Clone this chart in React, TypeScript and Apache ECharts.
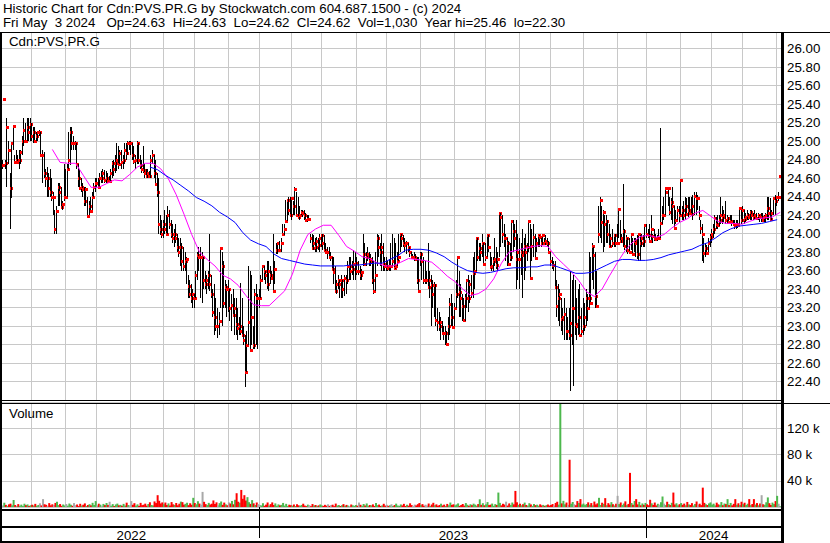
import React, { useEffect, useRef } from "react";
import * as echarts from "echarts";

const FONT = '"Liberation Sans", Arial, Helvetica, sans-serif';

const titleLine1 = "Historic Chart for Cdn:PVS.PR.G by Stockwatch.com 604.687.1500 - (c) 2024";
const titleLine2 = "Fri May  3 2024   Op=24.63  Hi=24.63  Lo=24.62  Cl=24.62  Vol=1,030  Year hi=25.46  lo=22.30";
const symbolLabel = "Cdn:PVS.PR.G";
const volumeLabel = "Volume";

// trading calendar
const firstDay = "2022-05-04";
const lastDay = "2024-05-03";
const marketHolidays = [
  "2022-05-23", "2022-07-01", "2022-08-01", "2022-09-05", "2022-10-10", "2022-12-26", "2022-12-27",
  "2023-01-02", "2023-02-20", "2023-04-07", "2023-05-22", "2023-07-03", "2023-08-07", "2023-09-04",
  "2023-10-09", "2023-12-25", "2023-12-26",
  "2024-01-01", "2024-02-19", "2024-03-29",
];

// daily highs (one line per month)
const highs = [
  24.8, 25.46, 24.8, 25.25, 25.0, 24.66, 24.98, 25.16, 24.85, 24.9, 24.85, 24.9, 24.9, 25.05, 25.25, 25.2, 25.25, 25.25, 25.25,
  25.2, 25.15, 25.15, 25.1, 25.1, 25.12, 25.1, 24.9, 24.88, 24.7, 24.72, 24.65, 24.7, 24.6, 24.45, 24.25, 24.3, 24.55, 24.55, 24.5, 24.35, 24.75,
  24.7, 24.75, 25.1, 25.15, 25.15, 25.05, 25.0, 24.98, 24.75, 24.7, 24.6, 24.55, 24.5, 24.5, 24.4, 24.35, 24.4, 24.45, 24.55, 24.6,
  24.6, 24.6, 24.65, 24.68, 24.7, 24.69, 24.68, 24.65, 24.62, 24.7, 24.78, 24.8, 24.85, 24.98, 24.95, 24.9, 24.9, 24.85, 24.98, 24.98, 25.0, 25.0,
  25.0, 24.98, 24.95, 24.85, 25.0, 24.98, 24.85, 24.8, 24.95, 24.75, 24.7, 24.7, 24.68, 24.85, 24.9, 24.85, 24.8, 24.65, 24.6, 24.2, 24.15,
  24.15, 24.25, 24.2, 24.3, 24.25, 24.15, 24.1, 24.05, 24.1, 24.0, 23.95, 23.95, 23.9, 23.85, 23.8, 23.75, 23.55, 23.5, 23.45, 23.4,
  23.35, 23.6, 23.8, 23.85, 23.85, 23.8, 23.75, 23.6, 23.55, 23.6, 24.0, 23.55, 23.4, 23.45, 23.3, 23.2, 23.15, 23.84, 23.8, 23.7, 23.5, 23.45,
  23.5, 23.4, 23.35, 23.4, 23.3, 23.3, 23.2, 23.1, 23.46, 23.3, 23.0, 22.9, 22.95, 23.65, 23.6, 23.55, 23.0, 23.4, 23.45, 23.35,
  23.4, 23.55, 23.65, 23.65, 23.6, 23.7, 23.7, 23.65, 23.6, 24.0, 23.7, 23.9, 23.9, 23.92, 23.95, 24.1, 24.1, 24.36, 24.36, 24.4, 24.4,
  24.4, 24.35, 24.5, 24.45, 24.4, 24.3, 24.25, 24.25, 24.25, 24.22, 24.2, 24.2, 24.0, 24.0, 23.98, 23.95, 23.96, 23.95, 24.0,
  24.0, 24.0, 23.98, 23.9, 23.85, 23.85, 23.8, 23.75, 23.75, 23.65, 23.5, 23.55, 23.5, 23.55, 23.5, 23.55, 23.55, 23.7, 23.75, 23.75, 23.7, 23.82, 23.8,
  23.75, 23.7, 23.65, 23.62, 24.0, 23.9, 23.8, 23.85, 23.8, 23.78, 23.75, 23.7, 23.8, 24.0, 23.98, 23.9, 24.0, 23.9, 23.75,
  23.75, 23.7, 23.72, 23.9, 24.0, 23.95, 23.9, 23.8, 24.0, 24.0, 24.0, 23.98, 23.95, 23.92, 23.9, 23.85, 23.8, 23.78, 23.8, 23.78, 23.75, 23.75,
  23.8, 23.8, 23.75, 23.7, 23.6, 23.9, 23.6, 23.55, 23.5, 23.48, 23.45, 23.2, 23.15, 23.1, 23.05, 23.0, 23.0, 22.95, 23.1, 23.3, 23.35, 23.25,
  23.25, 23.5, 23.75, 23.6, 23.45, 23.35, 23.3, 23.35, 23.5, 23.55, 23.5, 23.55, 23.75, 23.8, 23.95, 23.95, 23.9, 23.9, 24.0, 23.9,
  23.9, 24.0, 23.98, 23.8, 23.75, 23.75, 23.95, 23.85, 23.8, 24.22, 24.22, 24.2, 24.1, 24.0, 23.95, 23.92, 23.9, 24.15, 24.15, 24.1, 24.15, 24.0,
  23.95, 23.9, 24.05, 23.95, 24.0, 23.9, 24.14, 24.1, 24.05, 24.1, 24.0, 23.95, 24.0, 23.98, 23.95, 23.98, 23.95, 23.98, 23.95, 23.92,
  23.8, 23.75, 23.7, 23.7, 23.5, 23.45, 23.4, 23.3, 23.2, 23.3, 23.2, 23.1, 23.2, 23.6, 23.5, 23.55, 23.5, 23.3, 23.4, 23.45, 23.2,
  23.3, 23.25, 23.4, 23.35, 23.8, 23.75, 23.9, 23.85, 23.8, 23.6, 24.3, 24.4, 24.3, 24.25, 24.2, 24.2, 24.15, 24.1, 24.0, 24.05, 24.0, 24.0,
  24.1, 24.28, 24.15, 24.0, 24.54, 24.05, 23.98, 23.95, 23.95, 24.0, 23.95, 23.95, 23.95, 23.98, 24.0, 23.98, 24.0, 23.98, 24.1,
  24.1, 24.05, 24.1, 24.2, 24.0, 24.05, 24.0, 23.98, 24.05, 25.14, 24.3, 24.4, 24.49, 24.45, 24.49, 24.4, 24.38, 24.5, 24.3, 24.25, 24.3, 24.3,
  24.58, 24.3, 24.35, 24.4, 24.38, 24.4, 24.4, 24.4, 24.42, 24.45, 24.45, 24.42, 24.3, 24.15, 24.1, 23.95, 23.9, 23.88, 23.95, 24.0,
  24.05, 24.1, 24.2, 24.18, 24.2, 24.2, 24.4, 24.3, 24.25, 24.35, 24.2, 24.18, 24.2, 24.2, 24.15, 24.15, 24.15, 24.15, 24.28, 24.25,
  24.3, 24.25, 24.22, 24.25, 24.22, 24.25, 24.25, 24.22, 24.25, 24.22, 24.22, 24.2, 24.22, 24.22, 24.2, 24.22, 24.4, 24.4, 24.38, 24.25, 24.4, 24.42,
  24.4, 24.45, 24.63,
];

// daily lows
const lows = [
  24.7, 25.46, 24.7, 24.5, 24.75, 24.05, 24.39, 24.9, 24.75, 24.77, 24.75, 24.7, 24.75, 24.85, 24.95, 25.0, 25.0, 25.0, 25.0,
  25.0, 24.98, 24.98, 25.0, 25.0, 25.05, 24.85, 24.55, 24.6, 24.5, 24.4, 24.4, 24.4, 24.35, 24.2, 24.0, 24.0, 24.3, 24.3, 24.28, 24.25, 24.35,
  24.4, 24.4, 24.7, 24.74, 24.9, 24.9, 24.9, 24.7, 24.5, 24.47, 24.45, 24.4, 24.3, 24.3, 24.19, 24.2, 24.24, 24.25, 24.4, 24.45,
  24.5, 24.48, 24.5, 24.55, 24.55, 24.55, 24.55, 24.55, 24.55, 24.57, 24.6, 24.62, 24.65, 24.68, 24.7, 24.75, 24.7, 24.7, 24.75, 24.8, 24.85, 24.9,
  24.85, 24.8, 24.75, 24.7, 24.75, 24.75, 24.7, 24.65, 24.65, 24.6, 24.6, 24.6, 24.6, 24.6, 24.75, 24.6, 24.54, 24.4, 24.0, 23.98, 23.95,
  23.95, 24.0, 23.98, 24.0, 24.05, 23.95, 23.9, 23.85, 23.9, 23.8, 23.75, 23.65, 23.6, 23.6, 23.6, 23.45, 23.3, 23.3, 23.25, 23.2,
  23.2, 23.3, 23.5, 23.6, 23.3, 23.25, 23.4, 23.4, 23.35, 23.4, 23.38, 23.3, 23.1, 22.9, 22.95, 22.87, 22.9, 23.2, 23.0, 23.2, 23.2, 23.1,
  23.15, 23.05, 22.95, 23.1, 22.9, 22.9, 22.85, 22.9, 22.9, 22.88, 22.8, 22.34, 22.5, 22.8, 22.72, 22.8, 22.75, 22.75, 22.8, 22.75,
  23.2, 23.3, 23.5, 23.5, 23.45, 23.4, 23.38, 23.45, 23.5, 23.38, 23.45, 23.78, 23.78, 23.8, 23.8, 23.98, 23.98, 24.14, 24.14, 24.2, 24.18,
  24.15, 24.2, 24.2, 24.18, 24.18, 24.15, 24.2, 24.18, 24.15, 24.12, 24.12, 24.15, 23.9, 23.84, 23.82, 23.8, 23.8, 23.82, 23.8,
  23.85, 23.82, 23.82, 23.78, 23.72, 23.72, 23.7, 23.6, 23.45, 23.38, 23.35, 23.4, 23.3, 23.3, 23.3, 23.32, 23.35, 23.45, 23.5, 23.5, 23.55, 23.5, 23.5,
  23.55, 23.55, 23.5, 23.5, 23.65, 23.67, 23.65, 23.7, 23.65, 23.65, 23.45, 23.35, 23.38, 23.65, 23.75, 23.65, 23.6, 23.6, 23.6,
  23.6, 23.6, 23.6, 23.6, 23.65, 23.63, 23.62, 23.65, 23.7, 23.8, 23.85, 23.85, 23.8, 23.78, 23.8, 23.75, 23.72, 23.72, 23.7, 23.7, 23.45, 23.38,
  23.65, 23.5, 23.45, 23.45, 23.45, 23.42, 23.3, 23.0, 23.2, 23.1, 23.0, 22.95, 22.95, 22.85, 22.9, 22.85, 22.8, 22.78, 22.85, 22.9, 23.0, 22.99,
  23.0, 23.2, 23.3, 23.1, 23.1, 23.05, 23.06, 23.05, 23.2, 23.15, 23.25, 23.3, 23.3, 23.4, 23.6, 23.7, 23.7, 23.7, 23.75, 23.65,
  23.7, 23.75, 23.8, 23.64, 23.6, 23.6, 23.65, 23.62, 23.6, 23.75, 23.85, 23.9, 23.85, 23.7, 23.65, 23.65, 23.7, 23.7, 23.8, 23.85, 23.4, 23.5,
  23.4, 23.55, 23.3, 23.5, 23.6, 23.7, 23.8, 23.5, 23.7, 23.75, 23.74, 23.8, 23.85, 23.85, 23.85, 23.88, 23.88, 23.88, 23.85, 23.78,
  23.65, 23.62, 23.6, 23.4, 23.1, 23.05, 23.0, 22.95, 22.9, 22.85, 22.85, 22.85, 22.85, 22.3, 22.8, 22.35, 22.9, 22.85, 22.9, 22.9, 22.9,
  22.9, 22.95, 23.0, 23.05, 23.2, 23.25, 23.5, 23.4, 23.2, 23.2, 23.9, 23.95, 23.9, 23.8, 23.85, 23.9, 23.9, 23.85, 23.85, 23.85, 23.85, 23.85,
  23.9, 23.95, 23.9, 23.9, 23.85, 23.82, 23.8, 23.78, 23.78, 23.82, 23.78, 23.8, 23.75, 23.72, 23.7, 23.7, 23.85, 23.85, 23.85,
  23.95, 23.95, 23.92, 23.93, 23.9, 23.92, 23.93, 23.92, 23.94, 23.95, 24.1, 24.15, 24.2, 24.45, 24.3, 24.2, 24.15, 24.1, 24.06, 24.1, 24.15, 24.12,
  24.2, 24.15, 24.15, 24.15, 24.2, 24.18, 24.2, 24.2, 24.15, 24.2, 24.2, 24.25, 24.15, 24.0, 23.7, 23.68, 23.75, 23.78, 23.8, 23.85,
  23.9, 23.95, 24.0, 24.05, 24.05, 24.08, 24.1, 24.1, 24.12, 24.1, 24.1, 24.1, 24.1, 24.08, 24.08, 24.05, 24.05, 24.06, 24.1, 24.1,
  24.12, 24.1, 24.12, 24.15, 24.15, 24.15, 24.15, 24.15, 24.15, 24.15, 24.15, 24.12, 24.12, 24.12, 24.12, 24.13, 24.15, 24.15, 24.15, 24.15, 24.2, 24.2,
  24.3, 24.35, 24.62,
];

// daily closes
const closes = [
  24.74, 25.46, 24.76, 25.15, 24.9, 24.49, 24.98, 25.16, 24.77, 24.8, 24.77, 24.8, 24.88, 25.0, 25.12, 25.0, 25.15, 25.1, 25.19,
  25.05, 25.1, 25.0, 25.05, 25.1, 25.1, 24.85, 24.85, 24.65, 24.6, 24.6, 24.49, 24.45, 24.4, 24.4, 24.05, 24.24, 24.5, 24.45, 24.29, 24.32, 24.4,
  24.4, 24.7, 24.8, 25.1, 24.98, 24.98, 24.98, 24.75, 24.6, 24.49, 24.5, 24.48, 24.35, 24.48, 24.19, 24.3, 24.24, 24.4, 24.5, 24.55,
  24.55, 24.5, 24.6, 24.6, 24.65, 24.58, 24.6, 24.57, 24.57, 24.65, 24.76, 24.7, 24.76, 24.8, 24.75, 24.87, 24.77, 24.8, 24.9, 24.87, 24.98, 24.98,
  24.98, 24.85, 24.79, 24.8, 24.98, 24.8, 24.74, 24.7, 24.69, 24.65, 24.62, 24.65, 24.62, 24.8, 24.85, 24.65, 24.54, 24.45, 24.1, 24.05, 24.0,
  24.1, 24.05, 24.0, 24.2, 24.1, 24.0, 23.95, 24.0, 23.95, 23.85, 23.8, 23.85, 23.7, 23.65, 23.7, 23.72, 23.43, 23.35, 23.3, 23.35,
  23.3, 23.55, 23.77, 23.75, 23.75, 23.75, 23.5, 23.45, 23.5, 23.55, 23.45, 23.35, 23.15, 23.1, 23.0, 23.0, 23.05, 23.84, 23.65, 23.25, 23.42, 23.4,
  23.4, 23.2, 23.23, 23.12, 23.2, 23.02, 22.98, 23.0, 22.95, 22.9, 22.85, 22.5, 22.8, 23.04, 22.74, 23.1, 22.8, 23.35, 23.3, 23.3,
  23.3, 23.5, 23.65, 23.6, 23.55, 23.45, 23.6, 23.55, 23.52, 23.38, 23.62, 23.82, 23.9, 23.82, 23.9, 24.0, 24.05, 24.14, 24.36, 24.25, 24.2,
  24.39, 24.3, 24.48, 24.2, 24.18, 24.2, 24.23, 24.22, 24.2, 24.15, 24.16, 24.16, 23.95, 23.84, 23.9, 23.85, 23.92, 23.88, 23.95,
  23.98, 23.9, 23.82, 23.8, 23.8, 23.75, 23.75, 23.62, 23.58, 23.38, 23.45, 23.5, 23.45, 23.5, 23.4, 23.52, 23.5, 23.65, 23.65, 23.6, 23.62, 23.67, 23.68,
  23.6, 23.6, 23.55, 23.58, 23.78, 23.67, 23.75, 23.78, 23.7, 23.72, 23.5, 23.38, 23.55, 23.95, 23.85, 23.8, 23.85, 23.67, 23.65,
  23.65, 23.63, 23.65, 23.65, 23.7, 23.63, 23.65, 23.7, 23.75, 24.0, 23.95, 23.9, 23.88, 23.9, 23.85, 23.8, 23.75, 23.75, 23.75, 23.72, 23.5, 23.38,
  23.78, 23.7, 23.5, 23.5, 23.5, 23.42, 23.5, 23.44, 23.35, 23.44, 23.06, 23.04, 23.0, 23.04, 22.93, 22.92, 22.93, 22.81, 23.0, 23.24, 23.1, 22.99,
  23.2, 23.35, 23.75, 23.37, 23.3, 23.22, 23.06, 23.3, 23.5, 23.3, 23.45, 23.36, 23.57, 23.6, 23.95, 23.75, 23.84, 23.8, 23.9, 23.67,
  23.75, 23.98, 23.85, 23.64, 23.65, 23.7, 23.72, 23.66, 23.72, 24.22, 24.18, 24.0, 23.95, 23.95, 23.9, 23.67, 23.75, 24.14, 24.03, 23.95, 23.72, 23.8,
  23.72, 23.8, 23.77, 23.87, 23.8, 23.85, 24.14, 23.52, 23.87, 23.96, 23.74, 23.9, 23.98, 23.96, 23.9, 23.98, 23.9, 23.92, 23.9, 23.8,
  23.7, 23.66, 23.66, 23.42, 23.22, 23.3, 23.35, 23.08, 23.1, 23.13, 22.95, 22.95, 22.9, 23.03, 23.2, 23.2, 23.02, 23.0, 23.1, 22.9, 22.95,
  23.0, 23.1, 23.3, 23.2, 23.3, 23.25, 23.87, 23.77, 23.33, 23.22, 24.0, 24.36, 24.12, 24.23, 24.1, 24.14, 24.0, 23.87, 23.95, 23.9, 23.98, 23.9,
  23.9, 24.27, 23.92, 23.95, 24.03, 23.87, 23.95, 23.82, 23.8, 24.0, 23.78, 23.92, 23.9, 23.78, 24.0, 23.9, 23.95, 23.92, 24.09,
  24.0, 23.98, 23.92, 24.05, 23.97, 23.95, 23.94, 23.95, 23.95, 24.11, 24.2, 24.2, 24.49, 24.45, 24.49, 24.23, 24.34, 24.3, 24.06, 24.15, 24.25, 24.2,
  24.58, 24.25, 24.2, 24.3, 24.21, 24.25, 24.22, 24.21, 24.3, 24.41, 24.38, 24.38, 24.2, 24.06, 24.0, 23.79, 23.84, 23.79, 23.9, 23.96,
  24.0, 24.05, 24.17, 24.1, 24.09, 24.15, 24.2, 24.18, 24.2, 24.15, 24.17, 24.12, 24.14, 24.12, 24.1, 24.09, 24.1, 24.09, 24.28, 24.15,
  24.25, 24.16, 24.18, 24.2, 24.18, 24.23, 24.2, 24.18, 24.2, 24.17, 24.2, 24.18, 24.18, 24.15, 24.18, 24.2, 24.28, 24.22, 24.16, 24.22, 24.39, 24.35,
  24.4, 24.4, 24.62,
];

// daily volume, thousands of shares
const volumesK = [
  2.1, 6.5, 3.2, 1.8, 4.0, 5.1, 2.5, 10.7, 3.0, 1.2, 4.4, 2.0, 3.6, 1.5, 5.0, 2.8, 3.9, 1.6, 2.7,
  3.5, 2.2, 4.8, 1.9, 3.1, 5.6, 2.4, 12.0, 4.2, 3.3, 1.7, 5.9, 2.6, 4.1, 3.0, 6.2, 8.0, 2.9, 4.5, 1.8, 3.7, 2.3,
  4.6, 2.0, 5.3, 3.4, 1.9, 6.0, 2.7, 3.8, 1.4, 4.9, 2.2, 3.5, 5.5, 1.6, 3.0, 4.3, 2.5, 6.4, 3.1, 9.0,
  2.4, 5.0, 3.6, 1.8, 4.7, 2.9, 6.1, 3.2, 8.0, 2.0, 4.4, 1.5, 3.9, 5.2, 2.6, 3.3, 1.9, 4.8, 2.2, 6.6, 3.0, 2.5,
  9.0, 3.4, 5.8, 2.1, 4.0, 1.7, 6.3, 2.8, 3.5, 5.1, 2.0, 4.6, 7.2, 3.1, 2.4, 8.5, 6.0, 18.0, 9.5, 5.4, 7.0,
  4.2, 6.8, 3.0, 5.5, 2.3, 7.5, 4.0, 3.2, 6.1, 2.6, 5.0, 8.2, 7.4, 3.6, 4.9, 6.5, 2.8, 5.7, 3.4, 14.0,
  6.0, 4.1, 8.8, 5.2, 3.5, 23.0, 7.9, 4.4, 2.9, 6.3, 3.8, 5.0, 10.0, 4.6, 7.1, 2.5, 5.9, 8.4, 3.3, 6.7, 4.0, 2.7,
  7.0, 5.3, 9.2, 4.1, 11.0, 21.0, 8.0, 6.5, 26.0, 12.5, 18.0, 9.8, 15.0, 7.3, 4.8, 10.5, 5.6, 3.2, 6.9, 4.3,
  3.1, 2.4, 5.8, 1.9, 3.6, 6.9, 2.2, 4.4, 7.0, 3.0, 5.5, 1.8, 4.0, 2.6, 3.3, 6.2, 2.1, 4.8, 1.6, 3.5, 2.7,
  2.0, 3.8, 1.5, 4.2, 2.6, 1.9, 3.1, 5.0, 2.2, 1.4, 3.6, 2.8, 1.2, 4.5, 2.3, 3.0, 1.7, 2.5, 3.9,
  2.4, 1.6, 3.3, 2.0, 4.1, 1.8, 2.9, 3.5, 1.3, 5.2, 2.2, 3.0, 1.5, 2.7, 4.4, 1.9, 3.2, 2.1, 1.4, 3.8, 2.6, 1.7, 3.1,
  2.0, 6.8, 3.4, 1.7, 4.6, 2.3, 5.4, 1.9, 3.0, 2.5, 4.0, 1.6, 6.1, 2.8, 3.7, 1.5, 2.4, 4.9, 2.1,
  3.3, 1.8, 2.6, 4.2, 1.5, 3.0, 5.1, 2.2, 1.7, 3.9, 2.4, 4.8, 1.6, 3.4, 2.0, 5.6, 2.9, 1.4, 3.7, 2.5, 4.3, 6.0,
  2.8, 4.4, 1.9, 3.5, 2.2, 5.3, 1.6, 3.8, 6.4, 2.7, 4.0, 1.8, 3.1, 5.0, 2.3, 3.6, 1.5, 4.7, 2.6, 6.8, 3.2, 4.1,
  2.4, 3.9, 5.5, 1.7, 3.0, 4.6, 2.1, 6.0, 3.4, 1.9, 4.2, 2.8, 5.1, 3.6, 2.0, 4.5, 11.7, 3.3, 5.8, 2.6,
  4.0, 7.5, 2.9, 3.6, 5.2, 1.8, 4.4, 3.1, 22.0, 6.3, 2.5, 4.9, 3.7, 8.1, 2.2, 5.5, 3.0, 6.8, 4.1, 24.5, 7.2, 3.4,
  5.0, 2.6, 4.3, 6.7, 3.1, 2.0, 5.8, 3.9, 1.7, 4.6, 2.8, 3.5, 1.9, 4.1, 2.4, 3.2, 1.6, 2.9, 3.8, 2.2,
  3.0, 4.5, 2.1, 6.2, 8.0, 3.6, 157.0, 5.5, 9.4, 4.1, 6.8, 3.2, 72.0, 5.0, 7.6, 4.3, 2.7, 9.0, 6.1, 12.0, 3.8,
  5.2, 2.9, 4.6, 7.1, 3.4, 6.0, 2.5, 8.3, 4.0, 5.6, 14.0, 3.1, 6.5, 4.8, 13.5, 2.7, 5.9, 3.6, 7.4, 4.2, 2.3, 5.0,
  17.0, 4.4, 6.9, 3.0, 5.3, 8.6, 2.8, 4.7, 52.0, 6.1, 3.5, 9.2, 12.0, 4.0, 7.8, 2.6, 5.4, 3.3, 6.2,
  4.1, 2.7, 11.0, 5.6, 3.2, 6.8, 2.4, 4.9, 3.6, 7.3, 16.0, 5.1, 2.9, 8.0, 4.5, 3.0, 6.4, 22.0, 3.8, 5.7, 2.5, 4.3,
  6.0, 3.4, 5.2, 2.6, 7.7, 4.0, 3.1, 5.9, 2.3, 4.6, 8.4, 3.7, 5.0, 2.8, 29.5, 6.3, 4.2, 3.0, 5.5, 7.0,
  3.6, 5.1, 2.4, 6.6, 4.0, 3.2, 7.5, 2.7, 5.3, 4.4, 12.0, 3.0, 6.2, 2.5, 4.8, 12.0, 3.5, 5.7, 2.9, 8.0,
  4.3, 6.5, 3.1, 5.0, 12.0, 2.8, 4.6, 12.0, 3.7, 6.0, 2.6, 5.4, 18.0, 4.1, 3.3, 7.2, 14.6, 5.8, 3.0, 6.7, 4.5, 9.0,
  17.0, 5.0, 1.03,
];

// short moving average (magenta), read weekly: every 5th session from session 32
const maShortStart = 32;
const maShort = [
  24.91, 24.77, 24.76, 24.76, 24.63, 24.5, 24.5, 24.54, 24.58, 24.57,
  24.64, 24.72, 24.76, 24.76, 24.7, 24.59, 24.42, 24.21, 23.99, 23.8,
  23.72, 23.65, 23.55, 23.51, 23.44, 23.33, 23.23, 23.22, 23.22, 23.3,
  23.38, 23.56, 23.82, 23.99, 24.05, 24.09, 24.09, 23.98, 23.86, 23.81,
  23.75, 23.73, 23.68, 23.65, 23.65, 23.69, 23.73, 23.72, 23.71, 23.69,
  23.62, 23.54, 23.48, 23.4, 23.33, 23.35, 23.4, 23.51, 23.68, 23.8,
  23.82, 23.84, 23.86, 23.87, 23.86, 23.75, 23.67, 23.59, 23.49, 23.37,
  23.32, 23.4, 23.55, 23.69, 23.82, 23.91, 23.97, 23.98, 23.96, 23.99,
  24.06, 24.12, 24.16, 24.22, 24.25, 24.19, 24.13, 24.11, 24.11, 24.1,
  24.13, 24.16, 24.17, 24.18, 24.23,
];

// long moving average (blue), read weekly: every 5th session from session 95
const maLongStart = 95;
const maLong = [
  24.72, 24.69, 24.63, 24.58, 24.52, 24.46, 24.39, 24.35, 24.3, 24.23,
  24.18, 24.12, 24.01, 23.93, 23.89, 23.86, 23.78, 23.73, 23.71, 23.69,
  23.67, 23.66, 23.65, 23.65, 23.65, 23.65, 23.66, 23.66, 23.67, 23.68,
  23.68, 23.72, 23.76, 23.82, 23.83, 23.83, 23.82, 23.79, 23.75, 23.69,
  23.64, 23.6, 23.58, 23.57, 23.58, 23.6, 23.62, 23.63, 23.63, 23.64,
  23.64, 23.66, 23.66, 23.63, 23.6, 23.57, 23.57, 23.58, 23.62, 23.66,
  23.7, 23.72, 23.72, 23.71, 23.71, 23.72, 23.74, 23.77, 23.79, 23.81,
  23.83, 23.87, 23.9, 23.95, 24.01, 24.05, 24.08, 24.09, 24.1, 24.11,
  24.13, 24.15,
];
const maStep = 5;

const RED = "#ff0000";
const GREEN = "#4db84d";
const GREY = "#a8a8a8";
const GRID = "#c8c8c8";

function buildSessions(): string[] {
  const out: string[] = [];
  const d = new Date(firstDay + "T00:00:00Z");
  const end = new Date(lastDay + "T00:00:00Z").getTime();
  while (d.getTime() <= end) {
    const wd = d.getUTCDay();
    const s = d.toISOString().slice(0, 10);
    if (wd !== 0 && wd !== 6 && marketHolidays.indexOf(s) < 0) out.push(s);
    d.setUTCDate(d.getUTCDate() + 1);
  }
  return out;
}

export default function App() {
  const ref = useRef<HTMLDivElement>(null);

  useEffect(() => {
    document.body.style.margin = "0";
    const chart = echarts.init(ref.current as HTMLDivElement, undefined, { renderer: "svg" });
    const sessions = buildSessions();
    const n = sessions.length;

    const monthStart = sessions.map((s, i) => i > 0 && s.slice(0, 7) !== sessions[i - 1].slice(0, 7));
    const yearStart = sessions.map((s, i) => i > 0 && s.slice(0, 4) !== sessions[i - 1].slice(0, 4));
    // label each year at the middle of its span of sessions
    const yearLabelIdx: Record<number, boolean> = {};
    let spanStart = 0;
    for (let i = 1; i <= n; i++) {
      if (i === n || yearStart[i]) {
        yearLabelIdx[Math.floor((spanStart + i) / 2)] = true;
        spanStart = i;
      }
    }

    const ohlc = sessions.map((_, i) => [i, highs[i], lows[i], closes[i]]);
    const volData = sessions.map((_, i) => {
      const v = volumesK[i] ?? 0;
      let color = GREY;
      if (i > 0) {
        if (closes[i] > closes[i - 1]) color = GREEN;
        else if (closes[i] < closes[i - 1]) color = RED;
      }
      return { value: v, itemStyle: { color } };
    });
    const shortLine: (number | null)[] = sessions.map(() => null);
    maShort.forEach((v, k) => {
      const idx = maShortStart + k * maStep;
      if (idx < n) shortLine[idx] = v;
    });
    const longLine: (number | null)[] = sessions.map(() => null);
    maLong.forEach((v, k) => {
      const idx = maLongStart + k * maStep;
      if (idx < n) longLine[idx] = v;
    });

    const labelStyle = { fontFamily: FONT, fontSize: 13.3, color: "#000" };
    const txt = (text: string, x: number, y: number) => ({
      type: "text",
      x,
      y,
      z: 110,
      style: { text, fontFamily: FONT, fontSize: 13.3, fill: "#000", verticalAlign: "middle", align: "left" },
    });
    const bar = (x: number, y: number, width: number, height: number) => ({
      type: "rect",
      z: 100,
      shape: { x, y, width, height },
      style: { fill: "#000" },
    });

    const option: any = {
      animation: false,
      backgroundColor: "#ffffff",
      grid: [
        { left: 2, top: 32, width: 779, height: 368, containLabel: false, outerBoundsMode: "none" },
        { left: 2, top: 402, width: 779, height: 105, containLabel: false, outerBoundsMode: "none" },
      ],
      xAxis: [
        {
          gridIndex: 0,
          type: "category",
          data: sessions,
          boundaryGap: true,
          axisLine: { show: false },
          axisTick: { show: false },
          axisLabel: { show: false },
          splitLine: { show: true, interval: (i: number) => monthStart[i], lineStyle: { color: GRID, width: 1 } },
        },
        {
          gridIndex: 1,
          type: "category",
          data: sessions,
          boundaryGap: true,
          position: "bottom",
          offset: 3,
          axisLine: { show: false },
          axisTick: {
            show: true,
            interval: (i: number) => yearStart[i],
            length: 31,
            lineStyle: { color: "#000", width: 1 },
          },
          axisLabel: {
            show: true,
            interval: (i: number) => !!yearLabelIdx[i],
            formatter: (v: string) => v.slice(0, 4),
            margin: 19,
            ...labelStyle,
          },
          splitLine: { show: true, interval: (i: number) => monthStart[i], lineStyle: { color: GRID, width: 1 } },
        },
      ],
      yAxis: [
        {
          gridIndex: 0,
          type: "value",
          position: "right",
          min: 22.2,
          max: 26.18,
          interval: 0.2,
          axisLine: { show: false },
          axisTick: { show: false },
          axisLabel: {
            margin: 6,
            formatter: (v: number) => (v < 22.3 || v > 26.1 ? "" : v.toFixed(2)),
            ...labelStyle,
          },
          splitLine: { show: true, lineStyle: { color: GRID, width: 1 } },
        },
        {
          gridIndex: 1,
          type: "value",
          position: "right",
          min: 0,
          max: 160,
          interval: 40,
          axisLine: { show: false },
          axisTick: { show: false },
          axisLabel: {
            margin: 6,
            formatter: (v: number) => (v <= 0 || v >= 160 ? "" : v + " k"),
            ...labelStyle,
          },
          splitLine: { show: true, lineStyle: { color: GRID, width: 1 } },
        },
      ],
      series: [
        {
          type: "custom",
          xAxisIndex: 0,
          yAxisIndex: 0,
          z: 2,
          data: ohlc,
          encode: { x: 0, y: [1, 2, 3] },
          renderItem: (_params: any, api: any) => {
            const i = api.value(0);
            const h = api.coord([i, api.value(1)]);
            const l = api.coord([i, api.value(2)]);
            const c = api.coord([i, api.value(3)]);
            const children: any[] = [];
            const px = Math.round(h[0]);
            const top = Math.round(h[1]);
            const len = Math.round(l[1]) - top;
            if (len >= 1) {
              children.push({
                type: "rect",
                shape: { x: px - 1, y: top, width: 1, height: len },
                style: { fill: "#000" },
              });
            }
            const cy = Math.round(c[1]);
            children.push({
              type: "rect",
              shape: { x: px - 1, y: cy - 1, width: 3, height: 3 },
              style: { fill: RED },
            });
            return { type: "group", children };
          },
        },
        {
          type: "line",
          xAxisIndex: 0,
          yAxisIndex: 0,
          z: 4,
          data: shortLine,
          connectNulls: true,
          showSymbol: false,
          symbol: "none",
          lineStyle: { color: "#ff00ff", width: 1 },
        },
        {
          type: "line",
          xAxisIndex: 0,
          yAxisIndex: 0,
          z: 4,
          data: longLine,
          connectNulls: true,
          showSymbol: false,
          symbol: "none",
          lineStyle: { color: "#0000ff", width: 1 },
        },
        {
          type: "bar",
          xAxisIndex: 1,
          yAxisIndex: 1,
          barWidth: 2,
          data: volData,
        },
      ],
      graphic: [
        txt(titleLine1, 3, 8),
        txt(titleLine2, 3, 22),
        txt(symbolLabel, 9, 41),
        txt(volumeLabel, 9, 413),
        bar(0, 32, 830, 1),
        bar(0, 32, 2, 511),
        bar(781, 32, 3, 511),
        bar(0, 400, 781, 1),
        bar(0, 403, 830, 1),
        bar(0, 509, 784, 2),
        bar(0, 526, 784, 2),
        bar(0, 541, 784, 2),
      ],
    };

    chart.setOption(option);
    return () => chart.dispose();
  }, []);

  return <div ref={ref} style={{ position: "absolute", left: 0, top: 0, width: 830, height: 543 }} />;
}
